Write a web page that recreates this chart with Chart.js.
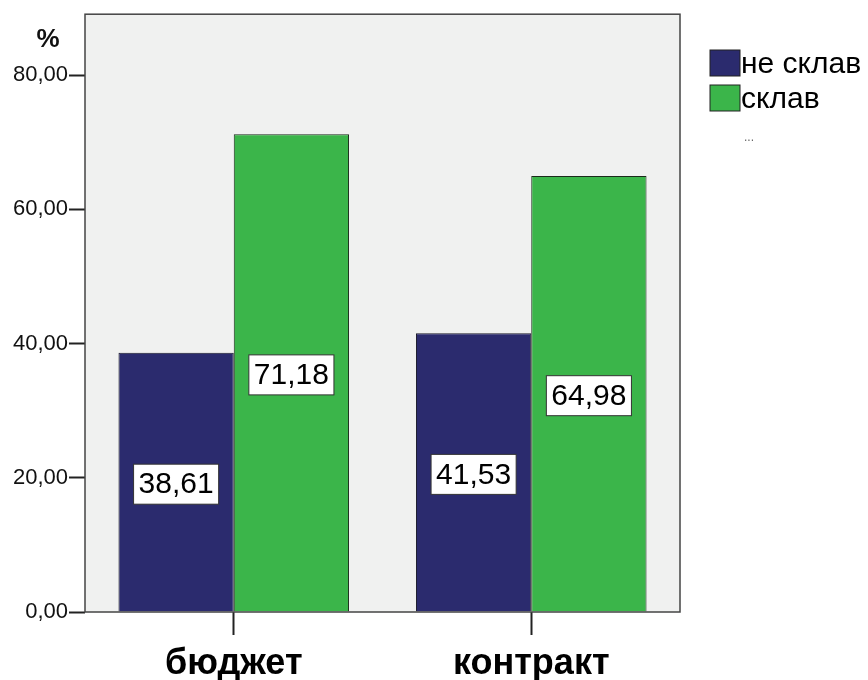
<!DOCTYPE html>
<html>
<head>
<meta charset="utf-8">
<script src="https://cdn.jsdelivr.net/npm/chart.js@4"></script>
<style>
  html, body { margin: 0; padding: 0; background: #fff; }
  #wrap { width: 868px; height: 680px; }
</style>
</head>
<body>
<div id="wrap"><canvas id="myChart" width="868" height="680"></canvas></div>
<script>
// data
var categories = ["бюджет", "контракт"];
var seriesNames = ["не склав", "склав"];
var notPassed = [38.61, 41.53];
var passed = [71.18, 64.98];
var yTicks = [0, 20, 40, 60, 80];
var barColors = ["#2b2b6e", "#3bb54a"];

function fmt(v) {
  return v.toFixed(2).replace(".", ",");
}

// grey plot background + frame
var plotBg = {
  id: "plotBg",
  beforeDraw: function (chart) {
    var a = chart.chartArea, ctx = chart.ctx;
    ctx.save();
    ctx.fillStyle = "#f0f1f0";
    ctx.fillRect(a.left, a.top, a.right - a.left, a.bottom - a.top);
    ctx.restore();
  },
  afterDraw: function (chart) {
    var a = chart.chartArea, ctx = chart.ctx;
    ctx.save();
    ctx.strokeStyle = "#444";
    ctx.lineWidth = 1.5;
    ctx.strokeRect(a.left, a.top, a.right - a.left, a.bottom - a.top);
    // "%" label
    ctx.fillStyle = "#111";
    ctx.font = "bold 26px 'Liberation Sans', Arial, sans-serif";
    ctx.textAlign = "center";
    ctx.textBaseline = "middle";
    ctx.fillText("%", 48, 40);
    ctx.restore();
  }
};

// value boxes in the middle of each bar
var valueBoxes = {
  id: "valueBoxes",
  afterDatasetsDraw: function (chart) {
    var ctx = chart.ctx;
    ctx.save();
    ctx.font = "30px 'Liberation Sans', Arial, sans-serif";
    ctx.textAlign = "center";
    ctx.textBaseline = "middle";
    chart.data.datasets.forEach(function (ds, i) {
      chart.getDatasetMeta(i).data.forEach(function (bar, j) {
        var txt = fmt(ds.data[j]);
        var cx = bar.x, cy = (bar.y + bar.base) / 2 + 2;
        var w = ctx.measureText(txt).width + 10, h = 40;
        ctx.fillStyle = "#fff";
        ctx.fillRect(cx - w / 2, cy - h / 2, w, h);
        ctx.strokeStyle = "#333";
        ctx.lineWidth = 1;
        ctx.strokeRect(cx - w / 2, cy - h / 2, w, h);
        ctx.fillStyle = "#000";
        ctx.fillText(txt, cx, cy + 1);
      });
    });
    ctx.restore();
  }
};

// legend on the right
var sideLegend = {
  id: "sideLegend",
  afterDraw: function (chart) {
    var ctx = chart.ctx;
    ctx.save();
    ctx.font = "30px 'Liberation Sans', Arial, sans-serif";
    ctx.textAlign = "left";
    ctx.textBaseline = "middle";
    chart.data.datasets.forEach(function (ds, i) {
      var y = 50 + i * 35;
      ctx.fillStyle = ds.backgroundColor;
      ctx.fillRect(710, y, 30, 26);
      ctx.strokeStyle = "#222";
      ctx.lineWidth = 1;
      ctx.strokeRect(710, y, 30, 26);
      ctx.fillStyle = "#000";
      ctx.fillText(ds.label, 741, y + 15);
    });
    ctx.fillStyle = "#666";
    ctx.font = "12px 'Liberation Sans', Arial, sans-serif";
    ctx.fillText("...", 744, 138);
    ctx.restore();
  }
};

new Chart("myChart", {
  type: "bar",
  data: {
    labels: categories,
    datasets: [{
      label: seriesNames[0],
      data: notPassed,
      backgroundColor: barColors[0],
      borderColor: "#1a1a2a",
      borderWidth: 1
    }, {
      label: seriesNames[1],
      data: passed,
      backgroundColor: barColors[1],
      borderColor: "#1a2a1a",
      borderWidth: 1
    }]
  },
  plugins: [plotBg, valueBoxes, sideLegend],
  options: {
    responsive: false,
    animation: false,
    layout: { padding: { top: 13, right: 188, left: 0, bottom: 0 } },
    plugins: {
      legend: { display: false },
      tooltip: { enabled: false }
    },
    datasets: {
      bar: { categoryPercentage: 0.775, barPercentage: 1 }
    },
    scales: {
      x: {
        grid: {
          offset: false,
          drawOnChartArea: false,
          tickLength: 23,
          color: "#222",
          tickWidth: 2
        },
        border: { display: false },
        ticks: {
          color: "#000",
          font: { family: "'Liberation Sans', Arial, sans-serif", size: 36, weight: "bold" },
          padding: 7
        },
        afterFit: function (s) { s.height = 68; }
      },
      y: {
        min: 0,
        max: 89.07,
        grid: {
          drawOnChartArea: false,
          tickLength: 16,
          color: "#222",
          tickWidth: 2
        },
        border: { display: false },
        ticks: {
          color: "#111",
          padding: 1,
          font: { family: "'Liberation Sans', Arial, sans-serif", size: 22 },
          callback: function (v) { return fmt(v); }
        },
        afterBuildTicks: function (s) {
          s.ticks = yTicks.map(function (v) { return { value: v }; });
        },
        afterFit: function (s) { s.width = 85; }
      }
    }
  }
});
</script>
</body>
</html>
